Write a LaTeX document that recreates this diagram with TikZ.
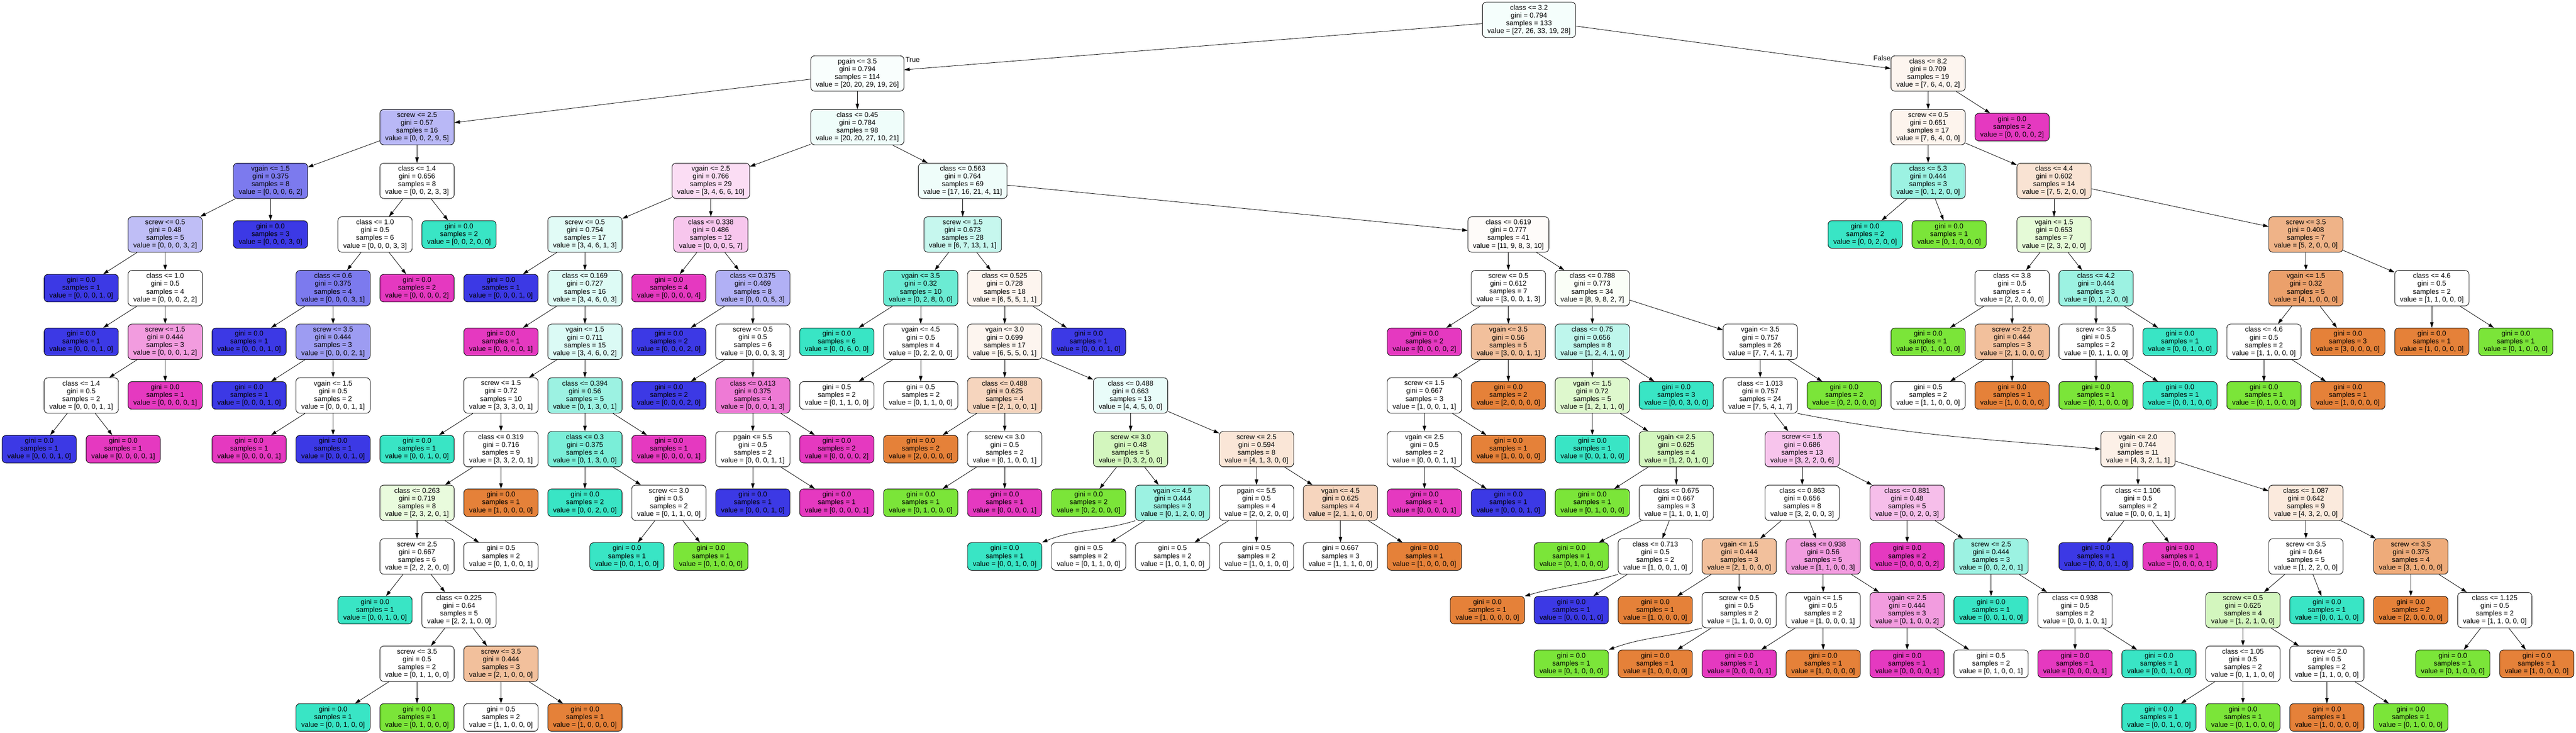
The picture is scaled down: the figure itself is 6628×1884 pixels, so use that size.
\documentclass[tikz,border=0pt]{standalone}
\usepackage{fontspec}
\setmainfont{Liberation Sans}
\usepackage{tikz}
\usetikzlibrary{arrows.meta}
\definecolor{cO}{RGB}{229,129,57}
\definecolor{cG}{RGB}{123,229,57}
\definecolor{cT}{RGB}{57,229,197}
\definecolor{cB}{RGB}{60,57,229}
\definecolor{cP}{RGB}{229,57,192}
\tikzset{%
  sp/.style = {rectangle,draw,rounded corners=5pt,fill=white,align=center,
        minimum width=95.5pt,minimum height=45.5pt,inner xsep=6.5pt,
        line width=0.6pt,font=\fontsize{9}{10}\selectfont},
  lf/.style = {sp,minimum height=35.5pt},
  treearrow/.style = {-{Triangle[length=7pt,width=4.5pt]},line width=0.55pt},
  edgelabel/.style = {inner sep=0pt,font=\fontsize{9}{10}\selectfont}
}

\begin{document}
\begin{tikzpicture}[x=0.5pt,y=-0.5pt]
   \useasboundingbox[fill=white] (0,0) rectangle (6628,1884);
   \node[sp, fill=cT!5] (n0) at (3934,51) {class <= 3.2\\gini = 0.794\\samples = 133\\value = [27, 26, 33, 19, 28]};
   \node[sp, fill=cT!3] (n1) at (2206,189) {pgain <= 3.5\\gini = 0.794\\samples = 114\\value = [20, 20, 29, 19, 26]};
   \node[sp, fill=cB!36] (n2) at (1073,327) {screw <= 2.5\\gini = 0.57\\samples = 16\\value = [0, 0, 2, 9, 5]};
   \node[sp, fill=cB!67] (n3) at (696,465) {vgain <= 1.5\\gini = 0.375\\samples = 8\\value = [0, 0, 0, 6, 2]};
   \node[sp, fill=cB!33] (n4) at (425,603) {screw <= 0.5\\gini = 0.48\\samples = 5\\value = [0, 0, 0, 3, 2]};
   \node[lf, fill=cB] (n5) at (209,741) {gini = 0.0\\samples = 1\\value = [0, 0, 0, 1, 0]};
   \node[sp] (n6) at (425,741) {class <= 1.0\\gini = 0.5\\samples = 4\\value = [0, 0, 0, 2, 2]};
   \node[lf, fill=cB] (n7) at (209,879) {gini = 0.0\\samples = 1\\value = [0, 0, 0, 1, 0]};
   \node[sp, fill=cP!50] (n8) at (425,879) {screw <= 1.5\\gini = 0.444\\samples = 3\\value = [0, 0, 0, 1, 2]};
   \node[sp] (n9) at (209,1017) {class <= 1.4\\gini = 0.5\\samples = 2\\value = [0, 0, 0, 1, 1]};
   \node[lf, fill=cB] (n10) at (101,1155) {gini = 0.0\\samples = 1\\value = [0, 0, 0, 1, 0]};
   \node[lf, fill=cP] (n11) at (317,1155) {gini = 0.0\\samples = 1\\value = [0, 0, 0, 0, 1]};
   \node[lf, fill=cP] (n12) at (425,1017) {gini = 0.0\\samples = 1\\value = [0, 0, 0, 0, 1]};
   \node[lf, fill=cB] (n13) at (696,603) {gini = 0.0\\samples = 3\\value = [0, 0, 0, 3, 0]};
   \node[sp] (n14) at (1073,465) {class <= 1.4\\gini = 0.656\\samples = 8\\value = [0, 0, 2, 3, 3]};
   \node[sp] (n15) at (965,603) {class <= 1.0\\gini = 0.5\\samples = 6\\value = [0, 0, 0, 3, 3]};
   \node[sp, fill=cB!67] (n16) at (857,741) {class <= 0.6\\gini = 0.375\\samples = 4\\value = [0, 0, 0, 3, 1]};
   \node[lf, fill=cB] (n17) at (641,879) {gini = 0.0\\samples = 1\\value = [0, 0, 0, 1, 0]};
   \node[sp, fill=cB!50] (n18) at (857,879) {screw <= 3.5\\gini = 0.444\\samples = 3\\value = [0, 0, 0, 2, 1]};
   \node[lf, fill=cB] (n19) at (641,1017) {gini = 0.0\\samples = 1\\value = [0, 0, 0, 1, 0]};
   \node[sp] (n20) at (857,1017) {vgain <= 1.5\\gini = 0.5\\samples = 2\\value = [0, 0, 0, 1, 1]};
   \node[lf, fill=cP] (n21) at (641,1155) {gini = 0.0\\samples = 1\\value = [0, 0, 0, 0, 1]};
   \node[lf, fill=cB] (n22) at (857,1155) {gini = 0.0\\samples = 1\\value = [0, 0, 0, 1, 0]};
   \node[lf, fill=cP] (n23) at (1073,741) {gini = 0.0\\samples = 2\\value = [0, 0, 0, 0, 2]};
   \node[lf, fill=cT] (n24) at (1181,603) {gini = 0.0\\samples = 2\\value = [0, 0, 2, 0, 0]};
   \node[sp, fill=cT!8] (n25) at (2206,327) {class <= 0.45\\gini = 0.784\\samples = 98\\value = [20, 20, 27, 10, 21]};
   \node[sp, fill=cP!17] (n26) at (1829,465) {vgain <= 2.5\\gini = 0.766\\samples = 29\\value = [3, 4, 6, 6, 10]};
   \node[sp, fill=cT!15] (n27) at (1505,603) {screw <= 0.5\\gini = 0.754\\samples = 17\\value = [3, 4, 6, 1, 3]};
   \node[lf, fill=cB] (n28) at (1289,741) {gini = 0.0\\samples = 1\\value = [0, 0, 0, 1, 0]};
   \node[sp, fill=cT!17] (n29) at (1505,741) {class <= 0.169\\gini = 0.727\\samples = 16\\value = [3, 4, 6, 0, 3]};
   \node[lf, fill=cP] (n30) at (1289,879) {gini = 0.0\\samples = 1\\value = [0, 0, 0, 0, 1]};
   \node[sp, fill=cT!18] (n31) at (1505,879) {vgain <= 1.5\\gini = 0.711\\samples = 15\\value = [3, 4, 6, 0, 2]};
   \node[sp] (n32) at (1289,1017) {screw <= 1.5\\gini = 0.72\\samples = 10\\value = [3, 3, 3, 0, 1]};
   \node[lf, fill=cT] (n33) at (1073,1155) {gini = 0.0\\samples = 1\\value = [0, 0, 1, 0, 0]};
   \node[sp] (n34) at (1289,1155) {class <= 0.319\\gini = 0.716\\samples = 9\\value = [3, 3, 2, 0, 1]};
   \node[sp, fill=cG!17] (n35) at (1073,1293) {class <= 0.263\\gini = 0.719\\samples = 8\\value = [2, 3, 2, 0, 1]};
   \node[sp] (n36) at (1073,1431) {screw <= 2.5\\gini = 0.667\\samples = 6\\value = [2, 2, 2, 0, 0]};
   \node[lf, fill=cT] (n37) at (965,1569) {gini = 0.0\\samples = 1\\value = [0, 0, 1, 0, 0]};
   \node[sp] (n38) at (1181,1569) {class <= 0.225\\gini = 0.64\\samples = 5\\value = [2, 2, 1, 0, 0]};
   \node[sp] (n39) at (1073,1707) {screw <= 3.5\\gini = 0.5\\samples = 2\\value = [0, 1, 1, 0, 0]};
   \node[lf, fill=cT] (n40) at (857,1845) {gini = 0.0\\samples = 1\\value = [0, 0, 1, 0, 0]};
   \node[lf, fill=cG] (n41) at (1073,1845) {gini = 0.0\\samples = 1\\value = [0, 1, 0, 0, 0]};
   \node[sp, fill=cO!50] (n42) at (1289,1707) {screw <= 3.5\\gini = 0.444\\samples = 3\\value = [2, 1, 0, 0, 0]};
   \node[lf] (n43) at (1289,1845) {gini = 0.5\\samples = 2\\value = [1, 1, 0, 0, 0]};
   \node[lf, fill=cO] (n44) at (1505,1845) {gini = 0.0\\samples = 1\\value = [1, 0, 0, 0, 0]};
   \node[lf] (n45) at (1289,1431) {gini = 0.5\\samples = 2\\value = [0, 1, 0, 0, 1]};
   \node[lf, fill=cO] (n46) at (1289,1293) {gini = 0.0\\samples = 1\\value = [1, 0, 0, 0, 0]};
   \node[sp, fill=cT!50] (n47) at (1505,1017) {class <= 0.394\\gini = 0.56\\samples = 5\\value = [0, 1, 3, 0, 1]};
   \node[sp, fill=cT!67] (n48) at (1505,1155) {class <= 0.3\\gini = 0.375\\samples = 4\\value = [0, 1, 3, 0, 0]};
   \node[lf, fill=cT] (n49) at (1505,1293) {gini = 0.0\\samples = 2\\value = [0, 0, 2, 0, 0]};
   \node[sp] (n50) at (1721,1293) {screw <= 3.0\\gini = 0.5\\samples = 2\\value = [0, 1, 1, 0, 0]};
   \node[lf, fill=cT] (n51) at (1613,1431) {gini = 0.0\\samples = 1\\value = [0, 0, 1, 0, 0]};
   \node[lf, fill=cG] (n52) at (1829,1431) {gini = 0.0\\samples = 1\\value = [0, 1, 0, 0, 0]};
   \node[lf, fill=cP] (n53) at (1721,1155) {gini = 0.0\\samples = 1\\value = [0, 0, 0, 0, 1]};
   \node[sp, fill=cP!29] (n54) at (1829,603) {class <= 0.338\\gini = 0.486\\samples = 12\\value = [0, 0, 0, 5, 7]};
   \node[lf, fill=cP] (n55) at (1721,741) {gini = 0.0\\samples = 4\\value = [0, 0, 0, 0, 4]};
   \node[sp, fill=cB!40] (n56) at (1937,741) {class <= 0.375\\gini = 0.469\\samples = 8\\value = [0, 0, 0, 5, 3]};
   \node[lf, fill=cB] (n57) at (1721,879) {gini = 0.0\\samples = 2\\value = [0, 0, 0, 2, 0]};
   \node[sp] (n58) at (1937,879) {screw <= 0.5\\gini = 0.5\\samples = 6\\value = [0, 0, 0, 3, 3]};
   \node[lf, fill=cB] (n59) at (1721,1017) {gini = 0.0\\samples = 2\\value = [0, 0, 0, 2, 0]};
   \node[sp, fill=cP!67] (n60) at (1937,1017) {class <= 0.413\\gini = 0.375\\samples = 4\\value = [0, 0, 0, 1, 3]};
   \node[sp] (n61) at (1937,1155) {pgain <= 5.5\\gini = 0.5\\samples = 2\\value = [0, 0, 0, 1, 1]};
   \node[lf, fill=cB] (n62) at (1937,1293) {gini = 0.0\\samples = 1\\value = [0, 0, 0, 1, 0]};
   \node[lf, fill=cP] (n63) at (2153,1293) {gini = 0.0\\samples = 1\\value = [0, 0, 0, 0, 1]};
   \node[lf, fill=cP] (n64) at (2153,1155) {gini = 0.0\\samples = 2\\value = [0, 0, 0, 0, 2]};
   \node[sp, fill=cT!8] (n65) at (2477,465) {class <= 0.563\\gini = 0.764\\samples = 69\\value = [17, 16, 21, 4, 11]};
   \node[sp, fill=cT!29] (n66) at (2477,603) {screw <= 1.5\\gini = 0.673\\samples = 28\\value = [6, 7, 13, 1, 1]};
   \node[sp, fill=cT!75] (n67) at (2369,741) {vgain <= 3.5\\gini = 0.32\\samples = 10\\value = [0, 2, 8, 0, 0]};
   \node[lf, fill=cT] (n68) at (2153,879) {gini = 0.0\\samples = 6\\value = [0, 0, 6, 0, 0]};
   \node[sp] (n69) at (2369,879) {vgain <= 4.5\\gini = 0.5\\samples = 4\\value = [0, 2, 2, 0, 0]};
   \node[lf] (n70) at (2153,1017) {gini = 0.5\\samples = 2\\value = [0, 1, 1, 0, 0]};
   \node[lf] (n71) at (2369,1017) {gini = 0.5\\samples = 2\\value = [0, 1, 1, 0, 0]};
   \node[sp, fill=cO!8] (n72) at (2585,741) {class <= 0.525\\gini = 0.728\\samples = 18\\value = [6, 5, 5, 1, 1]};
   \node[sp, fill=cO!8] (n73) at (2585,879) {vgain <= 3.0\\gini = 0.699\\samples = 17\\value = [6, 5, 5, 0, 1]};
   \node[sp, fill=cO!33] (n74) at (2585,1017) {class <= 0.488\\gini = 0.625\\samples = 4\\value = [2, 1, 0, 0, 1]};
   \node[lf, fill=cO] (n75) at (2369,1155) {gini = 0.0\\samples = 2\\value = [2, 0, 0, 0, 0]};
   \node[sp] (n76) at (2585,1155) {screw <= 3.0\\gini = 0.5\\samples = 2\\value = [0, 1, 0, 0, 1]};
   \node[lf, fill=cG] (n77) at (2369,1293) {gini = 0.0\\samples = 1\\value = [0, 1, 0, 0, 0]};
   \node[lf, fill=cP] (n78) at (2585,1293) {gini = 0.0\\samples = 1\\value = [0, 0, 0, 0, 1]};
   \node[sp, fill=cT!11] (n79) at (2909,1017) {class <= 0.488\\gini = 0.663\\samples = 13\\value = [4, 4, 5, 0, 0]};
   \node[sp, fill=cG!33] (n80) at (2909,1155) {screw <= 3.0\\gini = 0.48\\samples = 5\\value = [0, 3, 2, 0, 0]};
   \node[lf, fill=cG] (n81) at (2801,1293) {gini = 0.0\\samples = 2\\value = [0, 2, 0, 0, 0]};
   \node[sp, fill=cT!50] (n82) at (3017,1293) {vgain <= 4.5\\gini = 0.444\\samples = 3\\value = [0, 1, 2, 0, 0]};
   \node[lf, fill=cT] (n83) at (2585,1431) {gini = 0.0\\samples = 1\\value = [0, 0, 1, 0, 0]};
   \node[lf] (n84) at (2801,1431) {gini = 0.5\\samples = 2\\value = [0, 1, 1, 0, 0]};
   \node[sp, fill=cO!20] (n85) at (3233,1155) {screw <= 2.5\\gini = 0.594\\samples = 8\\value = [4, 1, 3, 0, 0]};
   \node[sp] (n86) at (3233,1293) {pgain <= 5.5\\gini = 0.5\\samples = 4\\value = [2, 0, 2, 0, 0]};
   \node[lf] (n87) at (3017,1431) {gini = 0.5\\samples = 2\\value = [1, 0, 1, 0, 0]};
   \node[lf] (n88) at (3233,1431) {gini = 0.5\\samples = 2\\value = [1, 0, 1, 0, 0]};
   \node[sp, fill=cO!33] (n89) at (3449,1293) {vgain <= 4.5\\gini = 0.625\\samples = 4\\value = [2, 1, 1, 0, 0]};
   \node[lf] (n90) at (3449,1431) {gini = 0.667\\samples = 3\\value = [1, 1, 1, 0, 0]};
   \node[lf, fill=cO] (n91) at (3665,1431) {gini = 0.0\\samples = 1\\value = [1, 0, 0, 0, 0]};
   \node[lf, fill=cB] (n92) at (2801,879) {gini = 0.0\\samples = 1\\value = [0, 0, 0, 1, 0]};
   \node[sp, fill=cO!3] (n93) at (3881,603) {class <= 0.619\\gini = 0.777\\samples = 41\\value = [11, 9, 8, 3, 10]};
   \node[sp] (n94) at (3881,741) {screw <= 0.5\\gini = 0.612\\samples = 7\\value = [3, 0, 0, 1, 3]};
   \node[lf, fill=cP] (n95) at (3665,879) {gini = 0.0\\samples = 2\\value = [0, 0, 0, 0, 2]};
   \node[sp, fill=cO!50] (n96) at (3881,879) {vgain <= 3.5\\gini = 0.56\\samples = 5\\value = [3, 0, 0, 1, 1]};
   \node[sp] (n97) at (3665,1017) {screw <= 1.5\\gini = 0.667\\samples = 3\\value = [1, 0, 0, 1, 1]};
   \node[sp] (n98) at (3665,1155) {vgain <= 2.5\\gini = 0.5\\samples = 2\\value = [0, 0, 0, 1, 1]};
   \node[lf, fill=cP] (n99) at (3665,1293) {gini = 0.0\\samples = 1\\value = [0, 0, 0, 0, 1]};
   \node[lf, fill=cB] (n100) at (3881,1293) {gini = 0.0\\samples = 1\\value = [0, 0, 0, 1, 0]};
   \node[lf, fill=cO] (n101) at (3881,1155) {gini = 0.0\\samples = 1\\value = [1, 0, 0, 0, 0]};
   \node[lf, fill=cO] (n102) at (3881,1017) {gini = 0.0\\samples = 2\\value = [2, 0, 0, 0, 0]};
   \node[sp, fill=cG!4] (n103) at (4097,741) {class <= 0.788\\gini = 0.773\\samples = 34\\value = [8, 9, 8, 2, 7]};
   \node[sp, fill=cT!33] (n104) at (4097,879) {class <= 0.75\\gini = 0.656\\samples = 8\\value = [1, 2, 4, 1, 0]};
   \node[sp, fill=cG!25] (n105) at (4097,1017) {vgain <= 1.5\\gini = 0.72\\samples = 5\\value = [1, 2, 1, 1, 0]};
   \node[lf, fill=cT] (n106) at (4097,1155) {gini = 0.0\\samples = 1\\value = [0, 0, 1, 0, 0]};
   \node[sp, fill=cG!33] (n107) at (4313,1155) {vgain <= 2.5\\gini = 0.625\\samples = 4\\value = [1, 2, 0, 1, 0]};
   \node[lf, fill=cG] (n108) at (4097,1293) {gini = 0.0\\samples = 1\\value = [0, 1, 0, 0, 0]};
   \node[sp] (n109) at (4313,1293) {class <= 0.675\\gini = 0.667\\samples = 3\\value = [1, 1, 0, 1, 0]};
   \node[lf, fill=cG] (n110) at (4043,1431) {gini = 0.0\\samples = 1\\value = [0, 1, 0, 0, 0]};
   \node[sp] (n111) at (4259,1431) {class <= 0.713\\gini = 0.5\\samples = 2\\value = [1, 0, 0, 1, 0]};
   \node[lf, fill=cO] (n112) at (3827,1569) {gini = 0.0\\samples = 1\\value = [1, 0, 0, 0, 0]};
   \node[lf, fill=cB] (n113) at (4043,1569) {gini = 0.0\\samples = 1\\value = [0, 0, 0, 1, 0]};
   \node[lf, fill=cT] (n114) at (4313,1017) {gini = 0.0\\samples = 3\\value = [0, 0, 3, 0, 0]};
   \node[sp] (n115) at (4529,879) {vgain <= 3.5\\gini = 0.757\\samples = 26\\value = [7, 7, 4, 1, 7]};
   \node[sp] (n116) at (4529,1017) {class <= 1.013\\gini = 0.757\\samples = 24\\value = [7, 5, 4, 1, 7]};
   \node[sp, fill=cP!30] (n117) at (4637,1155) {screw <= 1.5\\gini = 0.686\\samples = 13\\value = [3, 2, 2, 0, 6]};
   \node[sp] (n118) at (4637,1293) {class <= 0.863\\gini = 0.656\\samples = 8\\value = [3, 2, 0, 0, 3]};
   \node[sp, fill=cO!50] (n119) at (4475,1431) {vgain <= 1.5\\gini = 0.444\\samples = 3\\value = [2, 1, 0, 0, 0]};
   \node[lf, fill=cO] (n120) at (4259,1569) {gini = 0.0\\samples = 1\\value = [1, 0, 0, 0, 0]};
   \node[sp] (n121) at (4475,1569) {screw <= 0.5\\gini = 0.5\\samples = 2\\value = [1, 1, 0, 0, 0]};
   \node[lf, fill=cG] (n122) at (4043,1707) {gini = 0.0\\samples = 1\\value = [0, 1, 0, 0, 0]};
   \node[lf, fill=cO] (n123) at (4259,1707) {gini = 0.0\\samples = 1\\value = [1, 0, 0, 0, 0]};
   \node[sp, fill=cP!50] (n124) at (4691,1431) {class <= 0.938\\gini = 0.56\\samples = 5\\value = [1, 1, 0, 0, 3]};
   \node[sp] (n125) at (4691,1569) {vgain <= 1.5\\gini = 0.5\\samples = 2\\value = [1, 0, 0, 0, 1]};
   \node[lf, fill=cP] (n126) at (4475,1707) {gini = 0.0\\samples = 1\\value = [0, 0, 0, 0, 1]};
   \node[lf, fill=cO] (n127) at (4691,1707) {gini = 0.0\\samples = 1\\value = [1, 0, 0, 0, 0]};
   \node[sp, fill=cP!50] (n128) at (4907,1569) {vgain <= 2.5\\gini = 0.444\\samples = 3\\value = [0, 1, 0, 0, 2]};
   \node[lf, fill=cP] (n129) at (4907,1707) {gini = 0.0\\samples = 1\\value = [0, 0, 0, 0, 1]};
   \node[lf] (n130) at (5123,1707) {gini = 0.5\\samples = 2\\value = [0, 1, 0, 0, 1]};
   \node[sp, fill=cP!33] (n131) at (4907,1293) {class <= 0.881\\gini = 0.48\\samples = 5\\value = [0, 0, 2, 0, 3]};
   \node[lf, fill=cP] (n132) at (4907,1431) {gini = 0.0\\samples = 2\\value = [0, 0, 0, 0, 2]};
   \node[sp, fill=cT!50] (n133) at (5123,1431) {screw <= 2.5\\gini = 0.444\\samples = 3\\value = [0, 0, 2, 0, 1]};
   \node[lf, fill=cT] (n134) at (5123,1569) {gini = 0.0\\samples = 1\\value = [0, 0, 1, 0, 0]};
   \node[sp] (n135) at (5339,1569) {class <= 0.938\\gini = 0.5\\samples = 2\\value = [0, 0, 1, 0, 1]};
   \node[lf, fill=cP] (n136) at (5339,1707) {gini = 0.0\\samples = 1\\value = [0, 0, 0, 0, 1]};
   \node[lf, fill=cT] (n137) at (5555,1707) {gini = 0.0\\samples = 1\\value = [0, 0, 1, 0, 0]};
   \node[sp, fill=cO!12] (n138) at (5501,1155) {vgain <= 2.0\\gini = 0.744\\samples = 11\\value = [4, 3, 2, 1, 1]};
   \node[sp] (n139) at (5501,1293) {class <= 1.106\\gini = 0.5\\samples = 2\\value = [0, 0, 0, 1, 1]};
   \node[lf, fill=cB] (n140) at (5393,1431) {gini = 0.0\\samples = 1\\value = [0, 0, 0, 1, 0]};
   \node[lf, fill=cP] (n141) at (5609,1431) {gini = 0.0\\samples = 1\\value = [0, 0, 0, 0, 1]};
   \node[sp, fill=cO!17] (n142) at (5933,1293) {class <= 1.087\\gini = 0.642\\samples = 9\\value = [4, 3, 2, 0, 0]};
   \node[sp] (n143) at (5933,1431) {screw <= 3.5\\gini = 0.64\\samples = 5\\value = [1, 2, 2, 0, 0]};
   \node[sp, fill=cG!33] (n144) at (5771,1569) {screw <= 0.5\\gini = 0.625\\samples = 4\\value = [1, 2, 1, 0, 0]};
   \node[sp] (n145) at (5771,1707) {class <= 1.05\\gini = 0.5\\samples = 2\\value = [0, 1, 1, 0, 0]};
   \node[lf, fill=cT] (n146) at (5555,1845) {gini = 0.0\\samples = 1\\value = [0, 0, 1, 0, 0]};
   \node[lf, fill=cG] (n147) at (5771,1845) {gini = 0.0\\samples = 1\\value = [0, 1, 0, 0, 0]};
   \node[sp] (n148) at (5987,1707) {screw <= 2.0\\gini = 0.5\\samples = 2\\value = [1, 1, 0, 0, 0]};
   \node[lf, fill=cO] (n149) at (5987,1845) {gini = 0.0\\samples = 1\\value = [1, 0, 0, 0, 0]};
   \node[lf, fill=cG] (n150) at (6203,1845) {gini = 0.0\\samples = 1\\value = [0, 1, 0, 0, 0]};
   \node[lf, fill=cT] (n151) at (5987,1569) {gini = 0.0\\samples = 1\\value = [0, 0, 1, 0, 0]};
   \node[sp, fill=cO!67] (n152) at (6203,1431) {screw <= 3.5\\gini = 0.375\\samples = 4\\value = [3, 1, 0, 0, 0]};
   \node[lf, fill=cO] (n153) at (6203,1569) {gini = 0.0\\samples = 2\\value = [2, 0, 0, 0, 0]};
   \node[sp] (n154) at (6419,1569) {class <= 1.125\\gini = 0.5\\samples = 2\\value = [1, 1, 0, 0, 0]};
   \node[lf, fill=cG] (n155) at (6311,1707) {gini = 0.0\\samples = 1\\value = [0, 1, 0, 0, 0]};
   \node[lf, fill=cO] (n156) at (6527,1707) {gini = 0.0\\samples = 1\\value = [1, 0, 0, 0, 0]};
   \node[lf, fill=cG] (n157) at (4745,1017) {gini = 0.0\\samples = 2\\value = [0, 2, 0, 0, 0]};
   \node[sp, fill=cO!8] (n158) at (4961,189) {class <= 8.2\\gini = 0.709\\samples = 19\\value = [7, 6, 4, 0, 2]};
   \node[sp, fill=cO!9] (n159) at (4961,327) {screw <= 0.5\\gini = 0.651\\samples = 17\\value = [7, 6, 4, 0, 0]};
   \node[sp, fill=cT!50] (n160) at (4961,465) {class <= 5.3\\gini = 0.444\\samples = 3\\value = [0, 1, 2, 0, 0]};
   \node[lf, fill=cT] (n161) at (4799,603) {gini = 0.0\\samples = 2\\value = [0, 0, 2, 0, 0]};
   \node[lf, fill=cG] (n162) at (5015,603) {gini = 0.0\\samples = 1\\value = [0, 1, 0, 0, 0]};
   \node[sp, fill=cO!22] (n163) at (5285,465) {class <= 4.4\\gini = 0.602\\samples = 14\\value = [7, 5, 2, 0, 0]};
   \node[sp, fill=cG!20] (n164) at (5285,603) {vgain <= 1.5\\gini = 0.653\\samples = 7\\value = [2, 3, 2, 0, 0]};
   \node[sp] (n165) at (5177,741) {class <= 3.8\\gini = 0.5\\samples = 4\\value = [2, 2, 0, 0, 0]};
   \node[lf, fill=cG] (n166) at (4961,879) {gini = 0.0\\samples = 1\\value = [0, 1, 0, 0, 0]};
   \node[sp, fill=cO!50] (n167) at (5177,879) {screw <= 2.5\\gini = 0.444\\samples = 3\\value = [2, 1, 0, 0, 0]};
   \node[lf] (n168) at (4961,1017) {gini = 0.5\\samples = 2\\value = [1, 1, 0, 0, 0]};
   \node[lf, fill=cO] (n169) at (5177,1017) {gini = 0.0\\samples = 1\\value = [1, 0, 0, 0, 0]};
   \node[sp, fill=cT!50] (n170) at (5393,741) {class <= 4.2\\gini = 0.444\\samples = 3\\value = [0, 1, 2, 0, 0]};
   \node[sp] (n171) at (5393,879) {screw <= 3.5\\gini = 0.5\\samples = 2\\value = [0, 1, 1, 0, 0]};
   \node[lf, fill=cG] (n172) at (5393,1017) {gini = 0.0\\samples = 1\\value = [0, 1, 0, 0, 0]};
   \node[lf, fill=cT] (n173) at (5609,1017) {gini = 0.0\\samples = 1\\value = [0, 0, 1, 0, 0]};
   \node[lf, fill=cT] (n174) at (5609,879) {gini = 0.0\\samples = 1\\value = [0, 0, 1, 0, 0]};
   \node[sp, fill=cO!60] (n175) at (5933,603) {screw <= 3.5\\gini = 0.408\\samples = 7\\value = [5, 2, 0, 0, 0]};
   \node[sp, fill=cO!75] (n176) at (5933,741) {vgain <= 1.5\\gini = 0.32\\samples = 5\\value = [4, 1, 0, 0, 0]};
   \node[sp] (n177) at (5825,879) {class <= 4.6\\gini = 0.5\\samples = 2\\value = [1, 1, 0, 0, 0]};
   \node[lf, fill=cG] (n178) at (5825,1017) {gini = 0.0\\samples = 1\\value = [0, 1, 0, 0, 0]};
   \node[lf, fill=cO] (n179) at (6041,1017) {gini = 0.0\\samples = 1\\value = [1, 0, 0, 0, 0]};
   \node[lf, fill=cO] (n180) at (6041,879) {gini = 0.0\\samples = 3\\value = [3, 0, 0, 0, 0]};
   \node[sp] (n181) at (6257,741) {class <= 4.6\\gini = 0.5\\samples = 2\\value = [1, 1, 0, 0, 0]};
   \node[lf, fill=cO] (n182) at (6257,879) {gini = 0.0\\samples = 1\\value = [1, 0, 0, 0, 0]};
   \node[lf, fill=cG] (n183) at (6473,879) {gini = 0.0\\samples = 1\\value = [0, 1, 0, 0, 0]};
   \node[lf, fill=cP] (n184) at (5177,327) {gini = 0.0\\samples = 2\\value = [0, 0, 0, 0, 2]};
   \draw[treearrow] (n0) -- (n1) node[edgelabel, pos=1, anchor=south west, xshift=1.5pt, yshift=9.5pt] {True};
   \draw[treearrow] (n0) -- (n158) node[edgelabel, pos=1, anchor=south east, yshift=10pt] {False};
   \draw[treearrow] (n1) -- (n2);
   \draw[treearrow] (n1) -- (n25);
   \draw[treearrow] (n2) -- (n3);
   \draw[treearrow] (n2) -- (n14);
   \draw[treearrow] (n3) -- (n4);
   \draw[treearrow] (n3) -- (n13);
   \draw[treearrow] (n4) -- (n5);
   \draw[treearrow] (n4) -- (n6);
   \draw[treearrow] (n6) -- (n7);
   \draw[treearrow] (n6) -- (n8);
   \draw[treearrow] (n8) -- (n9);
   \draw[treearrow] (n8) -- (n12);
   \draw[treearrow] (n9) -- (n10);
   \draw[treearrow] (n9) -- (n11);
   \draw[treearrow] (n14) -- (n15);
   \draw[treearrow] (n14) -- (n24);
   \draw[treearrow] (n15) -- (n16);
   \draw[treearrow] (n15) -- (n23);
   \draw[treearrow] (n16) -- (n17);
   \draw[treearrow] (n16) -- (n18);
   \draw[treearrow] (n18) -- (n19);
   \draw[treearrow] (n18) -- (n20);
   \draw[treearrow] (n20) -- (n21);
   \draw[treearrow] (n20) -- (n22);
   \draw[treearrow] (n25) -- (n26);
   \draw[treearrow] (n25) -- (n65);
   \draw[treearrow] (n26) -- (n27);
   \draw[treearrow] (n26) -- (n54);
   \draw[treearrow] (n27) -- (n28);
   \draw[treearrow] (n27) -- (n29);
   \draw[treearrow] (n29) -- (n30);
   \draw[treearrow] (n29) -- (n31);
   \draw[treearrow] (n31) -- (n32);
   \draw[treearrow] (n31) -- (n47);
   \draw[treearrow] (n32) -- (n33);
   \draw[treearrow] (n32) -- (n34);
   \draw[treearrow] (n34) -- (n35);
   \draw[treearrow] (n34) -- (n46);
   \draw[treearrow] (n35) -- (n36);
   \draw[treearrow] (n35) -- (n45);
   \draw[treearrow] (n36) -- (n37);
   \draw[treearrow] (n36) -- (n38);
   \draw[treearrow] (n38) -- (n39);
   \draw[treearrow] (n38) -- (n42);
   \draw[treearrow] (n39) -- (n40);
   \draw[treearrow] (n39) -- (n41);
   \draw[treearrow] (n42) -- (n43);
   \draw[treearrow] (n42) -- (n44);
   \draw[treearrow] (n47) -- (n48);
   \draw[treearrow] (n47) -- (n53);
   \draw[treearrow] (n48) -- (n49);
   \draw[treearrow] (n48) -- (n50);
   \draw[treearrow] (n50) -- (n51);
   \draw[treearrow] (n50) -- (n52);
   \draw[treearrow] (n54) -- (n55);
   \draw[treearrow] (n54) -- (n56);
   \draw[treearrow] (n56) -- (n57);
   \draw[treearrow] (n56) -- (n58);
   \draw[treearrow] (n58) -- (n59);
   \draw[treearrow] (n58) -- (n60);
   \draw[treearrow] (n60) -- (n61);
   \draw[treearrow] (n60) -- (n64);
   \draw[treearrow] (n61) -- (n62);
   \draw[treearrow] (n61) -- (n63);
   \draw[treearrow] (n65) -- (n66);
   \draw[treearrow] (n65) -- (n93);
   \draw[treearrow] (n66) -- (n67);
   \draw[treearrow] (n66) -- (n72);
   \draw[treearrow] (n67) -- (n68);
   \draw[treearrow] (n67) -- (n69);
   \draw[treearrow] (n69) -- (n70);
   \draw[treearrow] (n69) -- (n71);
   \draw[treearrow] (n72) -- (n73);
   \draw[treearrow] (n72) -- (n92);
   \draw[treearrow] (n73) -- (n74);
   \draw[treearrow] (n73) -- (n79);
   \draw[treearrow] (n74) -- (n75);
   \draw[treearrow] (n74) -- (n76);
   \draw[treearrow] (n76) -- (n77);
   \draw[treearrow] (n76) -- (n78);
   \draw[treearrow] (n79) -- (n80);
   \draw[treearrow] (n79) -- (n85);
   \draw[treearrow] (n80) -- (n81);
   \draw[treearrow] (n80) -- (n82);
   \draw[treearrow] (n82.south west) to[out=197,in=22] (n83.north east);
   \draw[treearrow] (n82) -- (n84);
   \draw[treearrow] (n85) -- (n86);
   \draw[treearrow] (n85) -- (n89);
   \draw[treearrow] (n86) -- (n87);
   \draw[treearrow] (n86) -- (n88);
   \draw[treearrow] (n89) -- (n90);
   \draw[treearrow] (n89) -- (n91);
   \draw[treearrow] (n93) -- (n94);
   \draw[treearrow] (n93) -- (n103);
   \draw[treearrow] (n94) -- (n95);
   \draw[treearrow] (n94) -- (n96);
   \draw[treearrow] (n96) -- (n97);
   \draw[treearrow] (n96) -- (n102);
   \draw[treearrow] (n97) -- (n98);
   \draw[treearrow] (n97) -- (n101);
   \draw[treearrow] (n98) -- (n99);
   \draw[treearrow] (n98) -- (n100);
   \draw[treearrow] (n103) -- (n104);
   \draw[treearrow] (n103) -- (n115);
   \draw[treearrow] (n104) -- (n105);
   \draw[treearrow] (n104) -- (n114);
   \draw[treearrow] (n105) -- (n106);
   \draw[treearrow] (n105) -- (n107);
   \draw[treearrow] (n107) -- (n108);
   \draw[treearrow] (n107) -- (n109);
   \draw[treearrow] (n109) -- (n110);
   \draw[treearrow] (n109) -- (n111);
   \draw[treearrow] (n111.south west) to[out=196,in=16] (n112.north east);
   \draw[treearrow] (n111) -- (n113);
   \draw[treearrow] (n115) -- (n116);
   \draw[treearrow] (n115) -- (n157);
   \draw[treearrow] (n116) -- (n117);
   \draw[treearrow] (n116.south east) to[out=-11,in=175] (n138.west);
   \draw[treearrow] (n117) -- (n118);
   \draw[treearrow] (n117) -- (n131);
   \draw[treearrow] (n118) -- (n119);
   \draw[treearrow] (n118) -- (n124);
   \draw[treearrow] (n119) -- (n120);
   \draw[treearrow] (n119) -- (n121);
   \draw[treearrow] (n121.south west) to[out=195,in=20] (n122.north east);
   \draw[treearrow] (n121) -- (n123);
   \draw[treearrow] (n124) -- (n125);
   \draw[treearrow] (n124) -- (n128);
   \draw[treearrow] (n125) -- (n126);
   \draw[treearrow] (n125) -- (n127);
   \draw[treearrow] (n128) -- (n129);
   \draw[treearrow] (n128) -- (n130);
   \draw[treearrow] (n131) -- (n132);
   \draw[treearrow] (n131) -- (n133);
   \draw[treearrow] (n133) -- (n134);
   \draw[treearrow] (n133) -- (n135);
   \draw[treearrow] (n135) -- (n136);
   \draw[treearrow] (n135) -- (n137);
   \draw[treearrow] (n138) -- (n139);
   \draw[treearrow] (n138) -- (n142);
   \draw[treearrow] (n139) -- (n140);
   \draw[treearrow] (n139) -- (n141);
   \draw[treearrow] (n142) -- (n143);
   \draw[treearrow] (n142) -- (n152);
   \draw[treearrow] (n143) -- (n144);
   \draw[treearrow] (n143) -- (n151);
   \draw[treearrow] (n144) -- (n145);
   \draw[treearrow] (n144) -- (n148);
   \draw[treearrow] (n145) -- (n146);
   \draw[treearrow] (n145) -- (n147);
   \draw[treearrow] (n148) -- (n149);
   \draw[treearrow] (n148) -- (n150);
   \draw[treearrow] (n152) -- (n153);
   \draw[treearrow] (n152) -- (n154);
   \draw[treearrow] (n154) -- (n155);
   \draw[treearrow] (n154) -- (n156);
   \draw[treearrow] (n158) -- (n159);
   \draw[treearrow] (n158) -- (n184);
   \draw[treearrow] (n159) -- (n160);
   \draw[treearrow] (n159) -- (n163);
   \draw[treearrow] (n160) -- (n161);
   \draw[treearrow] (n160) -- (n162);
   \draw[treearrow] (n163) -- (n164);
   \draw[treearrow] (n163) -- (n175);
   \draw[treearrow] (n164) -- (n165);
   \draw[treearrow] (n164) -- (n170);
   \draw[treearrow] (n165) -- (n166);
   \draw[treearrow] (n165) -- (n167);
   \draw[treearrow] (n167) -- (n168);
   \draw[treearrow] (n167) -- (n169);
   \draw[treearrow] (n170) -- (n171);
   \draw[treearrow] (n170) -- (n174);
   \draw[treearrow] (n171) -- (n172);
   \draw[treearrow] (n171) -- (n173);
   \draw[treearrow] (n175) -- (n176);
   \draw[treearrow] (n175) -- (n181);
   \draw[treearrow] (n176) -- (n177);
   \draw[treearrow] (n176) -- (n180);
   \draw[treearrow] (n177) -- (n178);
   \draw[treearrow] (n177) -- (n179);
   \draw[treearrow] (n181) -- (n182);
   \draw[treearrow] (n181) -- (n183);
\end{tikzpicture}
\end{document}
